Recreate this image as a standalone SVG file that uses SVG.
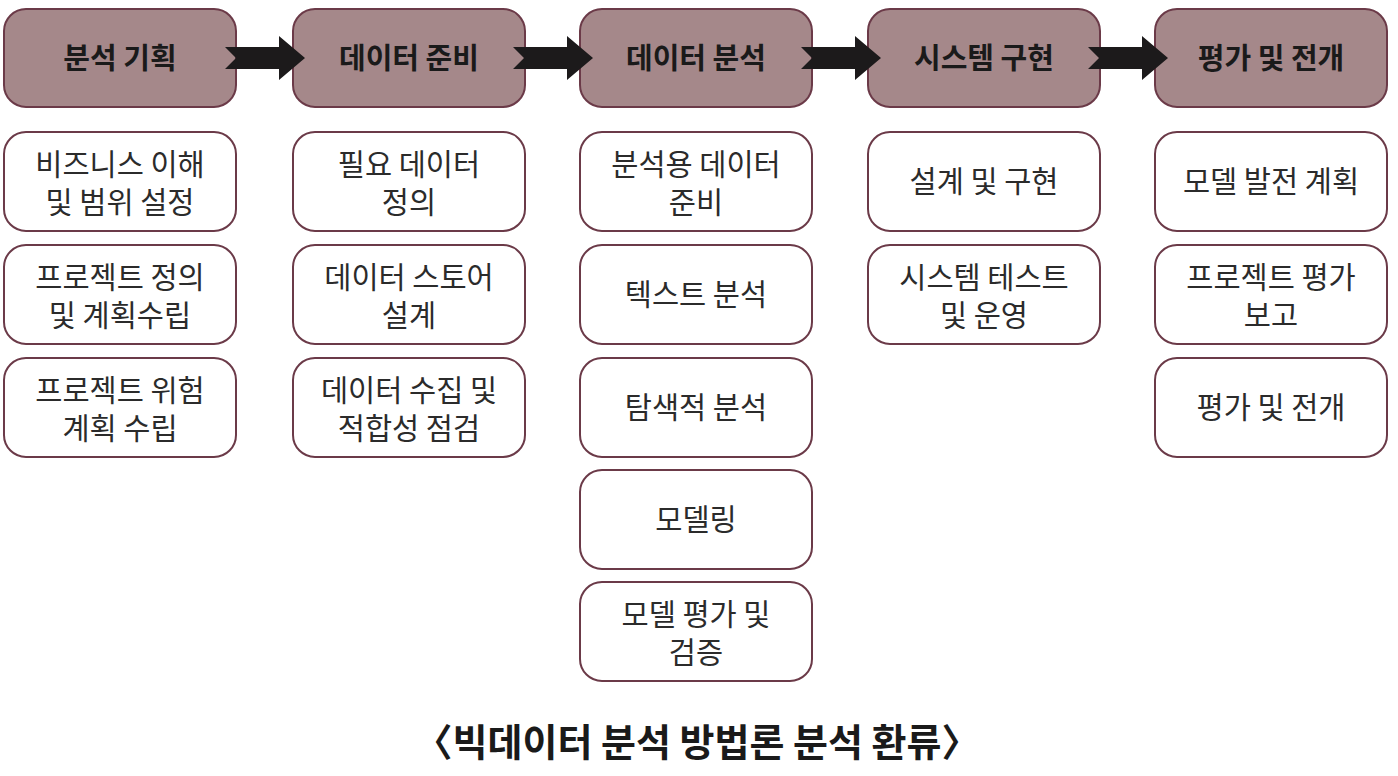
<svg xmlns="http://www.w3.org/2000/svg" width="1398" height="776" viewBox="0 0 1398 776">
<style>
.hd{fill:#a5888a;stroke:#6b3a48;stroke-width:2}
.bx{fill:#ffffff;stroke:#6b3a48;stroke-width:2}
.ht{font-family:"Noto Sans CJK KR","Noto Sans CJK SC",sans-serif;font-size:29px;font-weight:bold;fill:#1a1a1a;text-anchor:middle}
.bt{font-family:"Noto Sans CJK KR","Noto Sans CJK SC",sans-serif;font-size:29.5px;fill:#2b2b2b;text-anchor:middle}
.cap{font-family:"Noto Sans CJK KR","Noto Sans CJK SC",sans-serif;font-size:38px;font-weight:bold;fill:#1a1a1a;text-anchor:middle}
.ar{fill:#1c1a1b}
</style>
<defs>
<path id="arr" d="M0,-11 L54,-11 L54,-22 L80,0 L54,22 L54,11 L0,11 L11,0 Z"/>
</defs>

<g id="col1">
<g id="h1"><rect class="hd" x="4" y="9" width="232" height="98" rx="22"/><text class="ht" x="120" y="69">분석 기획</text></g>
<g id="n1a"><rect class="bx" x="4" y="132" width="232" height="99" rx="22"/><text class="bt" x="120" y="175">비즈니스 이해</text><text class="bt" x="120" y="213">및 범위 설정</text></g>
<g id="n1b"><rect class="bx" x="4" y="245" width="232" height="99" rx="22"/><text class="bt" x="120" y="288">프로젝트 정의</text><text class="bt" x="120" y="326">및 계획수립</text></g>
<g id="n1c"><rect class="bx" x="4" y="358" width="232" height="99" rx="22"/><text class="bt" x="120" y="401">프로젝트 위험</text><text class="bt" x="120" y="439">계획 수립</text></g>
</g>

<g id="col2">
<g id="h2"><rect class="hd" x="293" y="9" width="232" height="98" rx="22"/><text class="ht" x="409" y="69">데이터 준비</text></g>
<g id="n2a"><rect class="bx" x="293" y="132" width="232" height="99" rx="22"/><text class="bt" x="409" y="175">필요 데이터</text><text class="bt" x="409" y="213">정의</text></g>
<g id="n2b"><rect class="bx" x="293" y="245" width="232" height="99" rx="22"/><text class="bt" x="409" y="288">데이터 스토어</text><text class="bt" x="409" y="326">설계</text></g>
<g id="n2c"><rect class="bx" x="293" y="358" width="232" height="99" rx="22"/><text class="bt" x="409" y="401">데이터 수집 및</text><text class="bt" x="409" y="439">적합성 점검</text></g>
</g>

<g id="col3">
<g id="h3"><rect class="hd" x="580" y="9" width="232" height="98" rx="22"/><text class="ht" x="696" y="69">데이터 분석</text></g>
<g id="n3a"><rect class="bx" x="580" y="132" width="232" height="99" rx="22"/><text class="bt" x="696" y="175">분석용 데이터</text><text class="bt" x="696" y="213">준비</text></g>
<g id="n3b"><rect class="bx" x="580" y="245" width="232" height="99" rx="22"/><text class="bt" x="696" y="305">텍스트 분석</text></g>
<g id="n3c"><rect class="bx" x="580" y="358" width="232" height="99" rx="22"/><text class="bt" x="696" y="418">탐색적 분석</text></g>
<g id="n3d"><rect class="bx" x="580" y="470" width="232" height="99" rx="22"/><text class="bt" x="696" y="530">모델링</text></g>
<g id="n3e"><rect class="bx" x="580" y="582" width="232" height="99" rx="22"/><text class="bt" x="696" y="625">모델 평가 및</text><text class="bt" x="696" y="663">검증</text></g>
</g>

<g id="col4">
<g id="h4"><rect class="hd" x="868" y="9" width="232" height="98" rx="22"/><text class="ht" x="984" y="69">시스템 구현</text></g>
<g id="n4a"><rect class="bx" x="868" y="132" width="232" height="99" rx="22"/><text class="bt" x="984" y="192">설계 및 구현</text></g>
<g id="n4b"><rect class="bx" x="868" y="245" width="232" height="99" rx="22"/><text class="bt" x="984" y="288">시스템 테스트</text><text class="bt" x="984" y="326">및 운영</text></g>
</g>

<g id="col5">
<g id="h5"><rect class="hd" x="1155" y="9" width="232" height="98" rx="22"/><text class="ht" x="1271" y="69">평가 및 전개</text></g>
<g id="n5a"><rect class="bx" x="1155" y="132" width="232" height="99" rx="22"/><text class="bt" x="1271" y="192">모델 발전 계획</text></g>
<g id="n5b"><rect class="bx" x="1155" y="245" width="232" height="99" rx="22"/><text class="bt" x="1271" y="288">프로젝트 평가</text><text class="bt" x="1271" y="326">보고</text></g>
<g id="n5c"><rect class="bx" x="1155" y="358" width="232" height="99" rx="22"/><text class="bt" x="1271" y="418">평가 및 전개</text></g>
</g>

<g id="connectors">
<use href="#arr" class="ar" x="225" y="58"/>
<use href="#arr" class="ar" x="513" y="58"/>
<use href="#arr" class="ar" x="801" y="58"/>
<use href="#arr" class="ar" x="1088" y="58"/>
</g>

<text class="cap" x="697" y="756">〈빅데이터 분석 방법론 분석 환류〉</text>
</svg>
